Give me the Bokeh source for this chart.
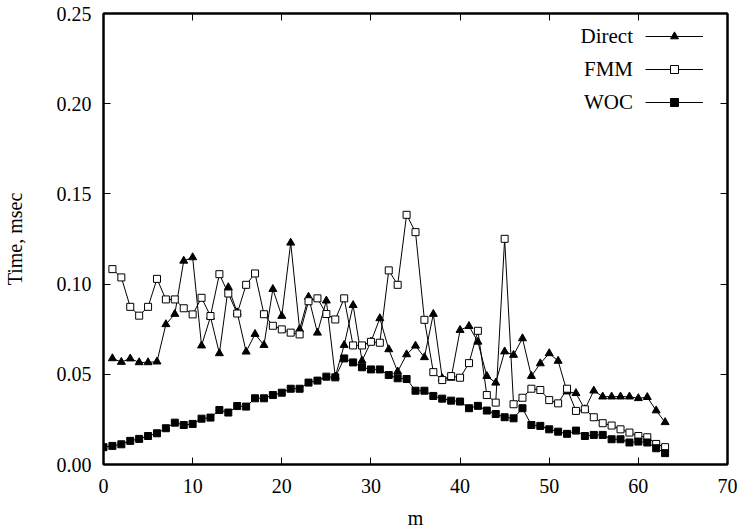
from bokeh.plotting import figure
from bokeh.models import (Range1d, LinearAxis, FixedTicker, NumeralTickFormatter,
                          Legend, LegendItem, Label)
from bokeh.embed import file_html
from bokeh.resources import INLINE

# ---- data ----
m_direct = list(range(1, 64))
direct = [0.0588, 0.0568, 0.0587, 0.0566, 0.0566, 0.0570, 0.0777, 0.0834, 0.1129, 0.1148,
          0.0659, 0.0819, 0.0616, 0.0982, 0.0843, 0.0625, 0.0723, 0.0662, 0.0972, 0.0823,
          0.1229, 0.0749, 0.0929, 0.0730, 0.0908, 0.0487, 0.0662, 0.0883, 0.0575, 0.0680,
          0.0810, 0.0638, 0.0515, 0.0610, 0.0658, 0.0594, 0.0834, 0.0478, 0.0480, 0.0745,
          0.0767, 0.0680, 0.0490, 0.0453, 0.0626, 0.0607, 0.0699, 0.0490, 0.0560, 0.0616,
          0.0574, 0.0404, 0.0395, 0.0306, 0.0409, 0.0376, 0.0376, 0.0376, 0.0376, 0.0367,
          0.0373, 0.0299, 0.0234]

m_fmm = list(range(1, 64))
fmm = [0.1083, 0.1037, 0.0874, 0.0825, 0.0874, 0.1029, 0.0915, 0.0915, 0.0866, 0.0832,
       0.0924, 0.0823, 0.1055, 0.0948, 0.0837, 0.0996, 0.1059, 0.0833, 0.0769, 0.0749,
       0.0731, 0.0721, 0.0905, 0.0921, 0.0834, 0.0804, 0.0921, 0.0660, 0.0660, 0.0680,
       0.0675, 0.1076, 0.0996, 0.1384, 0.1288, 0.0802, 0.0512, 0.0468, 0.0490, 0.0481,
       0.0562, 0.0741, 0.0385, 0.0343, 0.1251, 0.0334, 0.0370, 0.0420, 0.0413, 0.0357,
       0.0339, 0.0420, 0.0297, 0.0306, 0.0262, 0.0229, 0.0216, 0.0195, 0.0177, 0.0158,
       0.0151, 0.0114, 0.0096]

m_woc = list(range(0, 64))
woc = [0.0096, 0.0103, 0.0112, 0.0131, 0.0142, 0.0158, 0.0173, 0.0201, 0.0232, 0.0219,
       0.0225, 0.0254, 0.0260, 0.0302, 0.0288, 0.0324, 0.0321, 0.0367, 0.0367, 0.0385,
       0.0398, 0.0420, 0.0420, 0.0454, 0.0465, 0.0487, 0.0483, 0.0588, 0.0566, 0.0539,
       0.0527, 0.0527, 0.0496, 0.0478, 0.0474, 0.0409, 0.0409, 0.0380, 0.0365, 0.0354,
       0.0349, 0.0312, 0.0325, 0.0299, 0.0280, 0.0262, 0.0256, 0.0312, 0.0219, 0.0214,
       0.0195, 0.0182, 0.0170, 0.0188, 0.0158, 0.0164, 0.0164, 0.0140, 0.0140, 0.0122,
       0.0127, 0.0122, 0.0090, 0.0063]

x_ticks = [0, 10, 20, 30, 40, 50, 60, 70]
y_ticks = [0.00, 0.05, 0.10, 0.15, 0.20, 0.25]
series_names = ["Direct", "FMM", "WOC"]

FONT = "Liberation Serif"
FS = "20px"

p = figure(width=740, height=532, output_backend="svg", toolbar_location=None,
           x_range=Range1d(0, 70), y_range=Range1d(0, 0.25),
           min_border_left=103, min_border_right=13, min_border_top=13,
           min_border_bottom=68, x_axis_label="m", y_axis_label="Time, msec")
p.grid.visible = False
p.outline_line_color = "black"
p.outline_line_width = 2
p.background_fill_color = "white"
p.border_fill_color = "white"

# main axes
for ax in (p.xaxis[0], p.yaxis[0]):
    ax.major_tick_in = 7
    ax.major_tick_out = 0
    ax.minor_tick_line_color = None
    ax.axis_line_color = "black"
    ax.axis_line_width = 2
    ax.major_tick_line_color = "black"
    ax.major_tick_line_width = 1
    ax.major_label_text_font = FONT
    ax.major_label_text_font_size = FS
    ax.major_label_text_color = "black"
    ax.axis_label_text_font = FONT
    ax.axis_label_text_font_size = FS
    ax.axis_label_text_font_style = "normal"
    ax.axis_label_text_color = "black"

p.xaxis[0].ticker = FixedTicker(ticks=x_ticks)
p.yaxis[0].ticker = FixedTicker(ticks=y_ticks)
p.yaxis[0].formatter = NumeralTickFormatter(format="0.00")
p.xaxis[0].major_label_standoff = 14
p.yaxis[0].major_label_standoff = 12
p.xaxis[0].axis_label_standoff = 11
p.yaxis[0].axis_label_standoff = 28

# mirrored ticks (right / top), no labels
for loc, tk in (("right", y_ticks), ("above", x_ticks)):
    ax = LinearAxis(ticker=FixedTicker(ticks=tk))
    ax.major_tick_in = 7
    ax.major_tick_out = 0
    ax.minor_tick_line_color = None
    ax.axis_line_color = "black"
    ax.axis_line_width = 2
    ax.major_label_overrides = {t: "" for t in tk}
    ax.major_label_standoff = 0
    p.add_layout(ax, loc)

# series
l1 = p.line(m_direct, direct, line_color="black", line_width=1)
s1 = p.scatter(m_direct, direct, marker="triangle", size=8, fill_color="black", line_color="black")
l2 = p.line(m_fmm, fmm, line_color="black", line_width=1)
s2 = p.scatter(m_fmm, fmm, marker="square", size=7, fill_color="white", line_color="black", line_width=1)
l3 = p.line(m_woc, woc, line_color="black", line_width=1)
s3 = p.scatter(m_woc, woc, marker="square", size=7, fill_color="black", line_color="black")

legend = Legend(items=[LegendItem(label="", renderers=[l1, s1]),
                       LegendItem(label="", renderers=[l2, s2]),
                       LegendItem(label="", renderers=[l3, s3])],
                location=(542, 352), orientation="vertical",
                glyph_width=58, glyph_height=20, spacing=13, padding=0, margin=0,
                label_standoff=0, label_width=0, label_height=20,
                label_text_font_size="8px",
                border_line_color=None, background_fill_alpha=0)
p.add_layout(legend, "center")

# legend texts (to the left of the samples)
legend_x = [59.4, 59.4, 59.4]
legend_y = [0.2373, 0.2190, 0.2010]
for name, lx, ly in zip(series_names, legend_x, legend_y):
    p.add_layout(Label(x=lx, y=ly, text=name, text_align="right", text_baseline="middle",
                       text_font=FONT, text_font_size="21px", text_color="black"))

open("out.html", "w").write(file_html(p, INLINE))
